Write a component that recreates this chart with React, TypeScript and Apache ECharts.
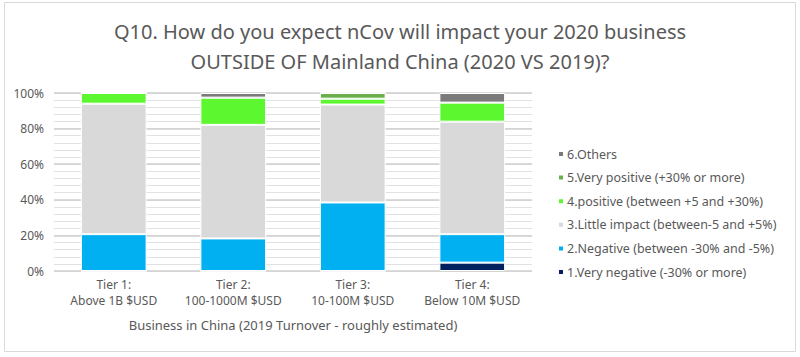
import React, { useEffect, useRef } from "react";
import * as echarts from "echarts";

const categories = [
  "Tier 1:\nAbove 1B $USD",
  "Tier 2:\n100-1000M $USD",
  "Tier 3:\n10-100M $USD",
  "Tier 4:\nBelow 10M $USD",
];

const seriesNames = [
  "1.Very negative (-30% or more)",
  "2.Negative (between -30% and -5%)",
  "3.Little impact (between-5 and +5%)",
  "4.positive (between +5 and +30%)",
  "5.Very positive (+30% or more)",
  "6.Others",
];

const veryNegative = [0, 0, 0, 4.7];
const negative = [20.7, 18.3, 38.5, 16.0];
const littleImpact = [73.3, 63.8, 55.0, 63.2];
const positive = [6.0, 15.3, 3.3, 10.7];
const veryPositive = [0, 0, 3.2, 0];
const others = [0, 2.6, 0, 5.4];

const seriesValues = [veryNegative, negative, littleImpact, positive, veryPositive, others];
const seriesColors = ["#002060", "#00B0F0", "#D9D9D9", "#5DF72F", "#6BAE4B", "#7A7A7A"];

const yTicks = [0, 20, 40, 60, 80, 100];

const titleText =
  "Q10. How do you expect nCov will impact your 2020 business\nOUTSIDE OF Mainland China (2020 VS 2019)?";
const xAxisName = "Business in China (2019 Turnover - roughly estimated)";

const FONT = "'Noto Sans', sans-serif";
const TEXT = "#595959";

export default function App() {
  const ref = useRef<HTMLDivElement>(null);
  useEffect(() => {
    document.body.style.margin = "0";
    if (!ref.current) return;
    const chart = echarts.init(ref.current, null, { renderer: "svg" });
    chart.setOption({
      animation: false,
      backgroundColor: "#ffffff",
      textStyle: { fontFamily: FONT },
      title: {
        text: titleText,
        left: "center",
        top: 11,
        textStyle: {
          fontFamily: FONT,
          fontSize: 20,
          fontWeight: "normal",
          lineHeight: 30,
          color: TEXT,
        },
      },
      graphic: [
        {
          type: "rect",
          shape: { x: 4.5, y: 2.5, width: 791, height: 349 },
          style: { fill: "none", stroke: "#D9D9D9", lineWidth: 1 },
          silent: true,
        },
      ],
      legend: {
        orient: "vertical",
        left: 552,
        top: 142,
        icon: "rect",
        itemWidth: 6,
        itemHeight: 6,
        itemGap: 9.6,
        data: [...seriesNames].reverse(),
        textStyle: { fontFamily: FONT, fontSize: 12.5, lineHeight: 14, color: TEXT, padding: [0, 0, 0, -2] },
      },
      grid: { left: 54, right: 268, top: 93, bottom: 86, containLabel: false },
      xAxis: {
        type: "category",
        data: categories,
        axisLine: { show: false },
        axisTick: { show: false },
        axisLabel: {
          color: TEXT,
          fontFamily: FONT,
          fontSize: 12,
          lineHeight: 16,
          margin: 5,
          interval: 0,
        },
        name: xAxisName,
        nameLocation: "middle",
        nameGap: 47,
        nameTextStyle: { color: TEXT, fontFamily: FONT, fontSize: 13 },
      },
      yAxis: [
        {
          type: "value",
          min: yTicks[0],
          max: yTicks[yTicks.length - 1],
          interval: 20,
          z: 2,
          axisLine: { show: false },
          axisTick: { show: false },
          axisLabel: {
            formatter: "{value}%",
            color: TEXT,
            fontFamily: FONT,
            fontSize: 12,
            margin: 10,
          },
          splitLine: { show: true, lineStyle: { color: "#CFCFCF", width: 1.5 } },
        },
        {
          type: "value",
          min: yTicks[0],
          max: yTicks[yTicks.length - 1],
          interval: 4,
          z: 1,
          position: "left",
          axisLine: { show: false },
          axisTick: { show: false },
          axisLabel: { show: false },
          splitLine: { show: true, lineStyle: { color: "#E2E2E2", width: 1 } },
        },
      ],
      series: seriesNames.map((name, i) => ({
        name,
        type: "bar",
        stack: "total",
        barWidth: "55%",
        yAxisIndex: 0,
        data: seriesValues[i],
        itemStyle: { color: seriesColors[i], borderColor: "#ffffff", borderWidth: 1 },
      })),
    });
    return () => chart.dispose();
  }, []);
  return <div ref={ref} style={{ width: 800, height: 357 }} />;
}
